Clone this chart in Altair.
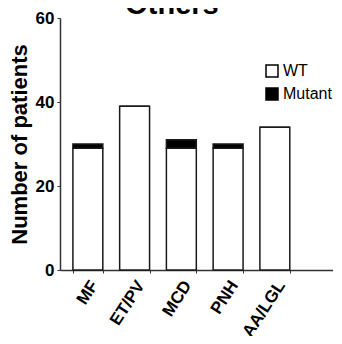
import altair as alt
import pandas as pd

categories = ["MF", "ET/PV", "MCD", "PNH", "AA/LGL"]
series = ["WT", "Mutant"]
wt_values = [29, 39, 29, 29, 34]
mutant_values = [1, 0, 2, 1, 0]
y_ticks = [0, 20, 40, 60]
chart_title = ["Others"]

rows = []
for i, c in enumerate(categories):
    rows.append({"category": c, "status": "WT", "count": wt_values[i], "ord": 0})
    rows.append({"category": c, "status": "Mutant", "count": mutant_values[i], "ord": 1})
df = pd.DataFrame(rows)

FONT = "Liberation Sans"

bars = alt.Chart(df).mark_bar(stroke="#1a1a1a", strokeWidth=1.5).encode(
    x=alt.X(
        "category:N",
        sort=categories,
        scale=alt.Scale(paddingInner=0.36, paddingOuter=0.6, align=0.23),
        axis=alt.Axis(
            title=None,
            labelAngle=-57,
            labelAlign="right",
            labelBaseline="middle",
            labelFont=FONT,
            labelFontSize=17,
            labelFontWeight="bold",
            labelColor="black",
            labelPadding=9,
            labelOffset=6,
            tickBand="extent",
            tickSize=3,
            tickColor="#333",
            domainColor="#333",
            domainWidth=1.5,
        ),
    ),
    y=alt.Y(
        "count:Q",
        stack="zero",
        scale=alt.Scale(domain=[0, 60], nice=False),
        axis=alt.Axis(
            title="Number of patients",
            values=y_ticks,
            grid=False,
            titleFont=FONT,
            titleFontSize=22,
            titleFontWeight="bold",
            titleColor="black",
            titlePadding=4,
            labelFont=FONT,
            labelFontSize=17,
            labelFontWeight="bold",
            labelColor="black",
            labelPadding=3,
            tickSize=3,
            tickColor="#333",
            domainColor="#333",
            domainWidth=1.5,
        ),
    ),
    color=alt.Color(
        "status:N",
        scale=alt.Scale(domain=series, range=["white", "black"]),
        legend=alt.Legend(
            title=None,
            orient="none",
            legendX=204,
            legendY=45,
            symbolType="square",
            symbolSize=144,
            symbolStrokeColor="black",
            symbolStrokeWidth=1.5,
            labelFont=FONT,
            labelFontSize=16,
            labelColor="black",
            labelOffset=3,
            rowPadding=5,
        ),
    ),
    order=alt.Order("ord:Q"),
)

title_text = alt.Chart(pd.DataFrame({"t": chart_title})).mark_text(
    font=FONT,
    fontSize=29,
    fontWeight="bold",
    color="black",
    align="center",
    baseline="alphabetic",
).encode(
    text="t:N",
    x=alt.value(112),
    y=alt.value(-4),
)

chart = alt.layer(bars, title_text).properties(
    width=273,
    height=252,
    autosize=alt.AutoSizeParams(type="none"),
    padding={"left": 52, "top": 10, "right": 0, "bottom": 66},
).configure_view(stroke=None)

chart.save("out.html", embed_options={"renderer": "svg", "actions": False})
